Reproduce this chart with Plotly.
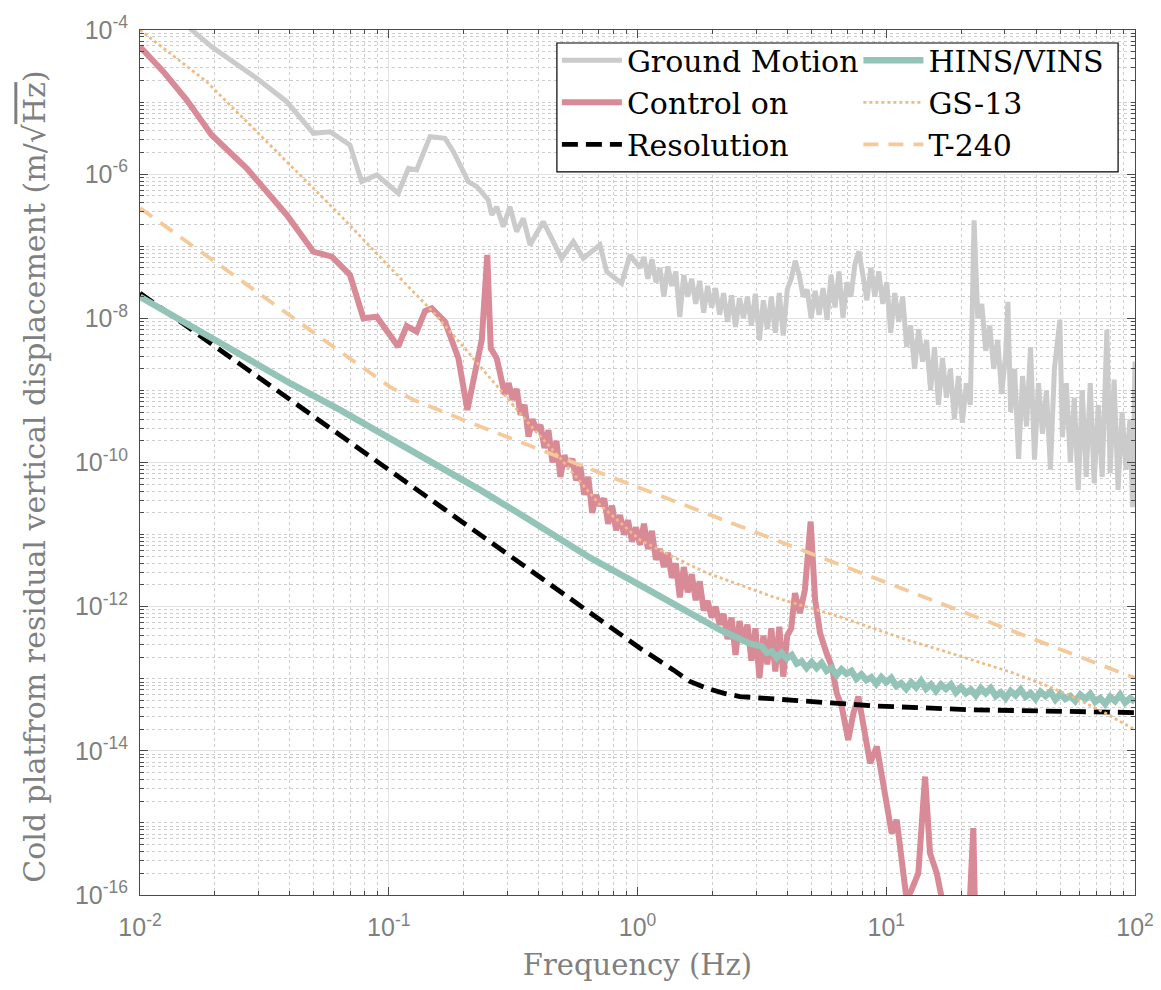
import plotly.graph_objects as go

# ---- data: log10(frequency / Hz) and log10(amplitude / (m/sqrt(Hz))) ----
ground_log_f = [-2.000, -1.792, -1.712, -1.531, -1.410, -1.303, -1.236, -1.156, -1.109, -1.048,
                -0.962, -0.921, -0.888, -0.834, -0.774, -0.740, -0.680, -0.646, -0.600, -0.586,
                -0.566, -0.540, -0.513, -0.486, -0.459, -0.432, -0.379, -0.338, -0.305, -0.258,
                -0.218, -0.151, -0.124, -0.064, -0.030,
                0.010, 0.026, 0.042, 0.058, 0.074, 0.090, 0.106, 0.122, 0.138, 0.154,
                0.170, 0.186, 0.202, 0.218, 0.234, 0.250, 0.266, 0.282, 0.298, 0.314,
                0.330, 0.346, 0.362, 0.378, 0.394, 0.410, 0.426, 0.442, 0.458, 0.474,
                0.490, 0.506, 0.522, 0.538, 0.554, 0.570, 0.586, 0.602, 0.618, 0.634,
                0.650, 0.666, 0.682, 0.698, 0.714, 0.730, 0.746, 0.762, 0.778, 0.794,
                0.810, 0.826, 0.842, 0.858, 0.874, 0.890, 0.906, 0.922, 0.938, 0.954,
                0.970, 0.986, 1.002, 1.018, 1.034, 1.050, 1.066, 1.082, 1.098, 1.114,
                1.130, 1.146, 1.162, 1.178, 1.194, 1.210, 1.226, 1.242, 1.258, 1.274,
                1.290, 1.306, 1.322, 1.338, 1.353, 1.368, 1.384, 1.400, 1.416, 1.432,
                1.448, 1.464, 1.480, 1.489, 1.500, 1.516, 1.532, 1.548, 1.564, 1.580,
                1.596, 1.612, 1.628, 1.644, 1.660, 1.676, 1.698, 1.708, 1.724, 1.740,
                1.756, 1.772, 1.788, 1.804, 1.820, 1.836, 1.852, 1.868, 1.887, 1.900,
                1.916, 1.932, 1.948, 1.964, 1.980, 1.990, 2.000]
ground_log_a = [-3.33, -4.00, -4.232, -4.670, -4.994, -5.433, -5.411, -5.595, -6.104, -6.011,
                -6.265, -5.918, -5.942, -5.480, -5.502, -5.688, -6.104, -6.173, -6.358, -6.566,
                -6.451, -6.728, -6.451, -6.798, -6.612, -6.982, -6.659, -6.936, -7.167, -6.936,
                -7.167, -6.982, -7.352, -7.513, -7.121,
                -7.30, -7.15, -7.45, -7.18, -7.50, -7.30, -7.70, -7.28, -7.55, -7.35,
                -7.98, -7.40, -7.70, -7.45, -7.80, -7.48, -7.92, -7.55, -7.85, -7.58,
                -7.95, -7.65, -8.05, -7.68, -8.12, -7.72, -8.00, -7.70, -8.10, -7.66,
                -8.30, -7.75, -8.15, -7.70, -8.20, -7.65, -8.24, -7.60, -7.45, -7.20,
                -7.40, -7.70, -7.60, -8.00, -7.62, -7.95, -7.58, -8.02, -7.40, -7.85,
                -7.35, -7.99, -7.50, -7.70, -7.25, -7.07, -7.40, -7.75, -7.30, -7.70,
                -7.35, -7.80, -7.50, -8.20, -7.65, -8.05, -7.70, -8.40, -8.10, -8.70,
                -8.15, -8.60, -8.30, -9.00, -8.40, -9.20, -8.55, -9.10, -8.70, -9.40,
                -8.80, -9.45, -8.90, -9.20, -6.64, -8.00, -7.80, -8.45, -8.10, -8.70,
                -8.30, -9.05, -8.50, -7.77, -9.30, -8.70, -9.95, -8.80, -9.50, -8.40,
                -9.96, -8.90, -9.60, -9.00, -10.10, -8.70, -8.02, -9.65, -8.90, -10.00,
                -9.10, -10.38, -9.00, -10.20, -8.90, -10.29, -9.20, -10.20, -8.16, -10.15,
                -8.85, -10.38, -9.30, -10.10, -9.40, -10.62, -8.60]

control_log_f = [-2.000, -1.906, -1.812, -1.712, -1.571, -1.410, -1.303, -1.229, -1.156, -1.102,
                 -1.048, -0.962, -0.928, -0.888, -0.854, -0.827, -0.774, -0.754, -0.720, -0.684,
                 -0.646, -0.626, -0.604, -0.590, -0.566,
                 -0.550, -0.534, -0.518, -0.502, -0.486, -0.470, -0.454, -0.438, -0.422, -0.406,
                 -0.390, -0.374, -0.358, -0.342, -0.326, -0.310, -0.294, -0.278, -0.262, -0.246,
                 -0.230, -0.214, -0.198, -0.182, -0.166, -0.150, -0.134, -0.118, -0.102, -0.086,
                 -0.070, -0.054, -0.038, -0.022, -0.006, 0.010, 0.026, 0.042, 0.058, 0.074,
                 0.090, 0.106, 0.122, 0.138, 0.154, 0.170, 0.186, 0.202, 0.218, 0.234,
                 0.250, 0.266, 0.282, 0.298, 0.314, 0.330, 0.346, 0.362, 0.378, 0.394,
                 0.410, 0.426, 0.442, 0.458, 0.474, 0.490, 0.506, 0.522, 0.538, 0.554,
                 0.570, 0.586, 0.602, 0.618,
                 0.633, 0.653, 0.673, 0.696, 0.714, 0.734, 0.760, 0.781, 0.801, 0.821,
                 0.847, 0.868, 0.888, 0.908, 0.935, 0.962, 0.982, 1.002, 1.022, 1.042,
                 1.062, 1.082, 1.102, 1.129, 1.156, 1.176, 1.203, 1.223, 1.256, 1.329,
                 1.350, 1.359]
control_log_a = [-4.232, -4.578, -4.971, -5.456, -5.918, -6.566, -7.075, -7.144, -7.398, -7.999,
                 -7.977, -8.393, -8.106, -8.185, -7.898, -7.860, -8.046, -8.254, -8.554, -9.271,
                 -8.623, -8.300, -7.121, -8.415, -8.554,
                 -8.85, -9.05, -8.90, -9.13, -8.98, -9.34, -9.20, -9.64, -9.40, -9.55,
                 -9.48, -9.80, -9.55, -10.00, -9.70, -10.20, -9.90, -10.05, -9.95, -10.25,
                 -10.05, -10.45, -10.20, -10.70, -10.45, -10.60, -10.50, -10.85, -10.60, -10.94,
                 -10.73, -11.00, -10.80, -11.10, -10.90, -11.14, -10.85, -11.20, -10.95, -11.35,
                 -11.20, -11.45, -11.25, -11.60, -11.40, -11.87, -11.45, -11.80, -11.55, -11.91,
                 -11.65, -12.05, -11.92, -12.15, -12.00, -12.25, -12.10, -12.45, -12.15, -12.67,
                 -12.20, -12.50, -12.25, -12.75, -12.30, -12.99, -12.40, -12.80, -12.30, -12.90,
                 -12.28, -12.97, -12.40, -12.30,
                 -11.813, -12.090, -11.767, -10.820, -11.906, -12.368, -12.645, -12.831, -13.200, -13.386,
                 -13.848, -13.477, -13.247, -13.663, -14.171, -13.940, -14.310, -14.773, -15.142, -14.957,
                 -15.466, -16.067, -15.928, -15.697, -14.357, -15.419, -15.697, -16.067, -16.600, -16.600,
                 -15.072, -16.600]

resolution_log_f = [-2.000, -1.500, -1.000, -0.500, 0.010, 0.144, 0.211, 0.278, 0.345, 0.412,
                    0.680, 0.948, 1.350, 2.000]
resolution_log_a = [-7.650, -8.880, -10.100, -11.330, -12.576, -12.877, -13.038, -13.131, -13.200, -13.247,
                    -13.316, -13.376, -13.431, -13.469]

ins_log_f = [-2.000, -1.799, -1.598, -1.397, -1.196, -0.995, -0.794, -0.633, -0.432, -0.191,
             0.010, 0.171, 0.332, 0.450,
             0.50, 0.52, 0.54, 0.56, 0.58, 0.60, 0.62, 0.64, 0.66, 0.68,
             0.70, 0.72, 0.74, 0.76, 0.78, 0.80, 0.82, 0.84, 0.86, 0.88,
             0.90, 0.92, 0.94, 0.96, 0.98, 1.00, 1.02, 1.04, 1.06, 1.08,
             1.10, 1.12, 1.14, 1.16, 1.18, 1.20, 1.22, 1.24, 1.26, 1.28,
             1.30, 1.32, 1.34, 1.36, 1.38, 1.40, 1.42, 1.44, 1.46, 1.48,
             1.50, 1.52, 1.54, 1.56, 1.58, 1.60, 1.62, 1.64, 1.66, 1.68,
             1.70, 1.72, 1.74, 1.76, 1.78, 1.80, 1.82, 1.84, 1.86, 1.88,
             1.90, 1.92, 1.94, 1.96, 1.98, 2.00]
ins_log_a = [-7.700, -8.100, -8.520, -8.900, -9.270, -9.660, -10.050, -10.380, -10.800, -11.320,
             -11.700, -12.000, -12.320, -12.510,
             -12.55, -12.64, -12.62, -12.71, -12.64, -12.72, -12.67, -12.79, -12.76, -12.85,
             -12.77, -12.85, -12.78, -12.89, -12.85, -12.95, -12.87, -12.93, -12.89, -13.00,
             -12.94, -13.02, -12.98, -13.07, -12.98, -13.05, -12.99, -13.10, -13.06, -13.14,
             -13.05, -13.12, -13.03, -13.14, -13.08, -13.17, -13.08, -13.14, -13.08, -13.19,
             -13.12, -13.20, -13.15, -13.23, -13.13, -13.20, -13.13, -13.24, -13.19, -13.27,
             -13.17, -13.23, -13.15, -13.25, -13.20, -13.28, -13.18, -13.24, -13.18, -13.29,
             -13.21, -13.28, -13.24, -13.31, -13.22, -13.28, -13.21, -13.32, -13.27, -13.35,
             -13.25, -13.31, -13.22, -13.33, -13.27, -13.32]

gs13_log_f = [-2.000, -1.732, -1.464, -1.196, -0.928, -0.822, -0.689, -0.553, -0.432, -0.312,
              -0.151, 0.010, 0.143, 0.278, 0.545, 0.814, 1.082, 1.216, 1.377, 1.497,
              1.618, 1.751, 1.879, 2.000]
gs13_log_a = [-4.000, -4.717, -5.641, -6.566, -7.537, -7.911, -8.438, -8.993, -9.479, -9.936,
              -10.588, -11.074, -11.309, -11.531, -11.864, -12.141, -12.460, -12.599, -12.779, -12.904,
              -13.057, -13.251, -13.473, -13.709]

t240_log_f = [-2.000, -1.799, -1.598, -1.397, -1.196, -0.995, -0.901, -0.700, -0.500, -0.300,
              -0.100, 0.144, 0.500, 0.800, 1.100, 1.400, 1.750, 2.000]
t240_log_a = [-6.47, -6.97, -7.46, -7.96, -8.46, -8.95, -9.13, -9.41, -9.68, -9.94,
              -10.21, -10.53, -11.00, -11.40, -11.80, -12.20, -12.66, -12.99]

x_tick_exponents = [-2, -1, 0, 1, 2]
y_tick_exponents = [-16, -14, -12, -10, -8, -6, -4]


def from_decades(values):
    return [10.0 ** v for v in values]


GRAY = "#cbcbcb"
PINK = "#d98a97"
TEAL = "#94c3b7"
ORANGE_DOT = "#f1b983"
ORANGE_DASH = "#f5c999"
LABEL_GRAY = "#7f7f7f"
SERIF = "DejaVu Serif"
SANS = "Liberation Sans"

fig = go.Figure()

fig.add_trace(go.Scatter(x=from_decades(ground_log_f), y=from_decades(ground_log_a), mode="lines",
                         name="Ground Motion", line=dict(color=GRAY, width=5), legend="legend"))
fig.add_trace(go.Scatter(x=from_decades(control_log_f), y=from_decades(control_log_a), mode="lines",
                         name="Control on", line=dict(color=PINK, width=6), legend="legend"))
fig.add_trace(go.Scatter(x=from_decades(resolution_log_f), y=from_decades(resolution_log_a), mode="lines",
                         name="Resolution", line=dict(color="black", width=4.8, dash="16px,8px"),
                         legend="legend"))
fig.add_trace(go.Scatter(x=from_decades(ins_log_f), y=from_decades(ins_log_a), mode="lines",
                         name="HINS/VINS", line=dict(color=TEAL, width=6.5), legend="legend2"))
fig.add_trace(go.Scatter(x=from_decades(gs13_log_f), y=from_decades(gs13_log_a), mode="lines",
                         name="GS-13", line=dict(color=ORANGE_DOT, width=2.8, dash="dot"),
                         legend="legend2"))
fig.add_trace(go.Scatter(x=from_decades(t240_log_f), y=from_decades(t240_log_a), mode="lines",
                         name="T-240", line=dict(color=ORANGE_DASH, width=3.8, dash="15px,10px"),
                         legend="legend2"))

x_minor = [k * 10.0 ** n for n in range(-2, 2) for k in range(2, 10)]
y_minor = [k * 10.0 ** n for n in range(-16, -4) for k in range(1, 10) if not (k == 1 and n % 2 == 0)]

axis_common = dict(
    type="log",
    showline=True, linecolor="#4a4a4a", linewidth=1, mirror="allticks",
    ticks="inside", ticklen=8, tickcolor="#4a4a4a", tickwidth=1,
    showgrid=True, gridcolor="#e3e3e3", gridwidth=1,
    tickfont=dict(family=SANS, size=25, color=LABEL_GRAY),
    ticklabeloverflow="allow",
    minor=dict(tickmode="array", ticks="inside", ticklen=4, tickcolor="#4a4a4a",
               showgrid=True, gridcolor="#cdcdcd", griddash="dot", gridwidth=1),
    zeroline=False,
)

fig.update_xaxes(**axis_common)
fig.update_xaxes(range=[-2, 2], tickmode="array",
                 tickvals=[10.0 ** e for e in x_tick_exponents],
                 ticktext=[f"10<sup>{e}</sup>" for e in x_tick_exponents],
                 minor_tickvals=x_minor, ticklabelstandoff=10,
                 title=dict(text="Frequency (Hz)", font=dict(family=SERIF, size=29, color=LABEL_GRAY),
                            standoff=14))
fig.update_yaxes(**axis_common)
fig.update_yaxes(range=[-16, -4], tickmode="array",
                 tickvals=[10.0 ** e for e in y_tick_exponents],
                 ticktext=[f"10<sup>{e}</sup>" for e in y_tick_exponents],
                 minor_tickvals=y_minor, ticklabelstandoff=6)

legend_font = dict(family=SERIF, size=30, color="black")
fig.update_layout(
    # the page body adds an 8 px margin, so the figure starts 8 px in from the window corner
    width=1153, height=982,
    margin=dict(l=132, r=26, t=22, b=95, autoexpand=False),
    paper_bgcolor="white", plot_bgcolor="white",
    legend=dict(x=0.419, y=0.995, xanchor="left", yanchor="top", bgcolor="rgba(0,0,0,0)",
                borderwidth=0, font=legend_font, itemwidth=60, tracegroupgap=0),
    legend2=dict(x=0.722, y=0.995, xanchor="left", yanchor="top", bgcolor="rgba(0,0,0,0)",
                 borderwidth=0, font=legend_font, itemwidth=60, tracegroupgap=0),
    shapes=[dict(type="rect", xref="paper", yref="paper", x0=0.419, x1=0.983, y0=0.836, y1=0.985,
                 line=dict(color="black", width=1.2), fillcolor="white", layer="above")],
    annotations=[dict(text="Cold platfrom residual vertical displacement (m/√<span style='text-decoration:overline'>Hz</span>)",
                      xref="paper", yref="paper", x=-0.106, y=0.483, xanchor="center", yanchor="middle",
                      textangle=-90, showarrow=False,
                      font=dict(family=SERIF, size=30, color=LABEL_GRAY))],
)

fig.write_html("out.html")
